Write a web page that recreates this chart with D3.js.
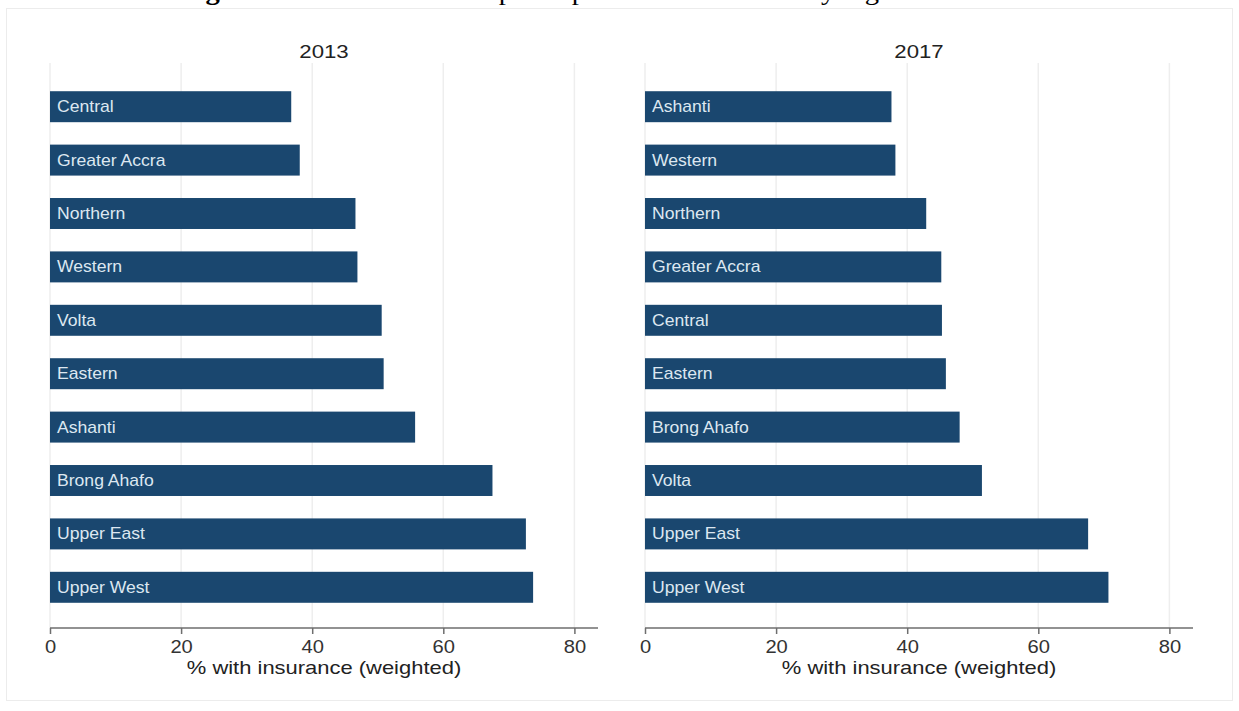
<!DOCTYPE html>
<html>
<head>
<meta charset="utf-8">
<script src="https://cdn.jsdelivr.net/npm/d3@7"></script>
<style>
  html, body { margin: 0; padding: 0; background: #ffffff; }
  svg { display: block; }
</style>
</head>
<body>
<svg id="chart" width="1239" height="711"></svg>
<script>
// ---- data ----
const figureLabel = "Figure 4:";
const figureTitle = " Health insurance participation in rural areas by region";
const panelTitles = ["2013", "2017"];
const regions2013 = ["Central", "Greater Accra", "Northern", "Western", "Volta", "Eastern", "Ashanti", "Brong Ahafo", "Upper East", "Upper West"];
const values2013  = [36.8, 38.1, 46.6, 46.9, 50.6, 50.9, 55.7, 67.5, 72.6, 73.7];
const regions2017 = ["Ashanti", "Western", "Northern", "Greater Accra", "Central", "Eastern", "Brong Ahafo", "Volta", "Upper East", "Upper West"];
const values2017  = [37.6, 38.2, 42.9, 45.2, 45.3, 45.9, 48.0, 51.4, 67.6, 70.7];
const xTicks = [0, 20, 40, 60, 80];
const xAxisTitle = "% with insurance (weighted)";

// ---- drawing ----
const svg = d3.select("#chart");
const FONT = "'Liberation Sans', Arial, sans-serif";
const barColor = "#1a476f";

// outer graph region frame
svg.append("rect")
  .attr("x", 6.5).attr("y", 8.5).attr("width", 1226).attr("height", 692)
  .attr("fill", "#ffffff").attr("stroke", "#ececec").attr("stroke-width", 1);

// figure caption, cropped at the very top as in the source image
const cap = svg.append("text")
  .attr("transform", "translate(180,0) scale(1.1,1)")
  .attr("font-family", "'Liberation Serif', 'Times New Roman', serif")
  .attr("font-size", 26)
  .attr("fill", "#000");
cap.append("tspan").attr("font-weight", "bold").text(figureLabel);
cap.append("tspan").text(figureTitle);

const panels = [
  { title: panelTitles[0], cats: regions2013, vals: values2013, x0: 50, x1: 598 },
  { title: panelTitles[1], cats: regions2017, vals: values2017, x0: 645, x1: 1193 }
];

const plotTop = 63, axisY = 628;

panels.forEach(p => {
  const x = d3.scaleLinear().domain([0, 83.6]).range([p.x0, p.x1]);
  const y = d3.scaleBand().domain(p.cats).range([80, 614]).paddingInner(0.42).paddingOuter(0.21);
  const g = svg.append("g");

  // gridlines
  g.selectAll("line.grid").data(xTicks).enter().append("line")
    .attr("class", "grid")
    .attr("x1", d => x(d)).attr("x2", d => x(d))
    .attr("y1", plotTop).attr("y2", axisY)
    .attr("stroke", "#eeeeee").attr("stroke-width", 1.5);

  // bars
  const data = p.cats.map((c, i) => ({ cat: c, val: p.vals[i] }));
  g.selectAll("rect.bar").data(data).enter().append("rect")
    .attr("class", "bar")
    .attr("x", x(0))
    .attr("y", d => y(d.cat))
    .attr("width", d => x(d.val) - x(0))
    .attr("height", y.bandwidth())
    .attr("fill", barColor);

  // bar labels
  g.selectAll("text.lab").data(data).enter().append("text")
    .attr("class", "lab")
    .attr("transform", d => `translate(${x(0) + 7},${y(d.cat) + y.bandwidth() / 2 + 5.5}) scale(1.1,1)`)
    .attr("font-family", FONT)
    .attr("font-size", 16)
    .attr("fill", "#dde7f1")
    .text(d => d.cat);

  // x axis
  const axis = d3.axisBottom(x).tickValues(xTicks).tickSize(6).tickPadding(6).tickFormat(d3.format("d"));
  const ag = svg.append("g").attr("transform", `translate(0,${axisY})`).call(axis);
  ag.select(".domain").attr("stroke", "#6e6e6e").attr("stroke-width", 1.5)
    .attr("d", `M${p.x0},0H${p.x1}`);
  ag.selectAll(".tick line").attr("stroke", "#6e6e6e").attr("stroke-width", 1.5);
  ag.selectAll(".tick text")
    .attr("font-family", FONT).attr("font-size", 18).attr("fill", "#333333")
    .attr("transform", "scale(1.12,1)");

  // axis title
  svg.append("text")
    .attr("transform", `translate(${(p.x0 + p.x1) / 2},674) scale(1.22,1)`)
    .attr("text-anchor", "middle")
    .attr("font-family", FONT).attr("font-size", 18).attr("fill", "#222222")
    .text(xAxisTitle);

  // panel title
  svg.append("text")
    .attr("transform", `translate(${(p.x0 + p.x1) / 2},58) scale(1.2,1)`)
    .attr("text-anchor", "middle")
    .attr("font-family", FONT).attr("font-size", 18.5).attr("fill", "#222222")
    .text(p.title);
});
</script>
</body>
</html>
